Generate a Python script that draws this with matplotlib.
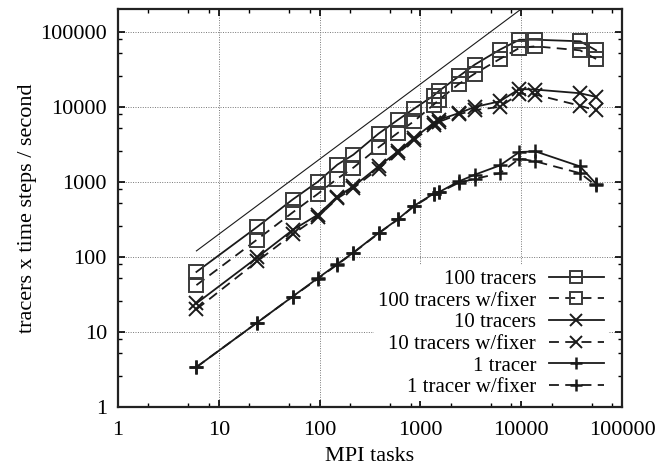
import numpy as np
import matplotlib.pyplot as plt
from matplotlib.ticker import FixedLocator, NullFormatter

# MPI task counts (6*ne^2)
tasks = [6, 24, 54, 96, 150, 216, 384, 600, 864, 1350, 1536, 2400, 3456, 6144, 9600, 13824, 38400, 55296]

t100 = [63, 250, 580, 1000, 1690, 2290, 4370, 6700, 9400, 14000, 16300, 25300, 36300, 57500, 78000, 78000, 74300, 56300]
t100_fix = [42, 170, 390, 690, 1100, 1540, 2870, 4500, 6400, 10600, 12400, 20000, 27500, 43200, 60600, 63700, 56300, 43200]
t10 = [24, 98, 228, 363, 635, 865, 1600, 2540, 3820, 6060, 6700, 8200, 9900, 11800, 17200, 16900, 15100, 13500]
t10_fix = [20, 87, 200, 340, 600, 820, 1500, 2400, 3600, 5700, 6300, 7900, 9000, 9950, 14900, 14500, 10300, 8900]
t1 = [3.4, 13.3, 29.6, 52, 80, 114, 207, 318, 478, 692, 730, 1010, 1240, 1650, 2490, 2540, 1600, 940]
t1_fix = [3.4, 13.3, 29.5, 51, 79, 113, 205, 315, 472, 680, 720, 970, 1090, 1300, 2030, 1870, 1300, 893]

# ideal scaling line
ideal_x = [6, 55296]
ideal_y = [20 * v for v in ideal_x]

labels = ['100 tracers', '100 tracers w/fixer', '10 tracers', '10 tracers w/fixer', '1 tracer', '1 tracer w/fixer']

plt.rcParams['font.family'] = ['Liberation Serif', 'DejaVu Serif']
plt.rcParams['font.size'] = 16

fig = plt.figure(figsize=(6.6, 4.7), dpi=100)
ax = fig.add_axes([118 / 660, 1 - 407 / 470, 504 / 660, 398 / 470])

lc = '#1a1a1a'
dash = (0, (5.5, 3.5))
common = dict(color=lc, lw=1.3, markerfacecolor='none')
ax.plot(tasks, t100, ls='-', marker='s', ms=10.5, mew=1.4, mec='#3a3a3a', label=labels[0], **common)
ax.plot(tasks, t100_fix, ls=dash, marker='s', ms=10.5, mew=1.4, mec='#3a3a3a', label=labels[1], **common)
ax.plot(tasks, t10, ls='-', marker='x', ms=10, mew=1.4, mec=lc, label=labels[2], **common)
ax.plot(tasks, t10_fix, ls=dash, marker='x', ms=10, mew=1.4, mec=lc, label=labels[3], **common)
ax.plot(tasks, t1, ls='-', marker='+', ms=10, mew=1.8, mec=lc, label=labels[4], **common)
ax.plot(tasks, t1_fix, ls=dash, marker='+', ms=10, mew=1.8, mec=lc, label=labels[5], **common)
ax.plot(ideal_x, ideal_y, color=lc, lw=0.8)

ax.set_xscale('log')
ax.set_yscale('log')
ax.set_xlim(1, 100000)
ax.set_ylim(1, 2e5)

xmaj = [1, 10, 100, 1000, 10000, 100000]
ymaj = [1, 10, 100, 1000, 10000, 100000]
ax.xaxis.set_major_locator(FixedLocator(xmaj))
ax.yaxis.set_major_locator(FixedLocator(ymaj))
ax.set_xticklabels([str(v) for v in xmaj])
ax.set_yticklabels([str(v) for v in ymaj])
ax.xaxis.set_minor_locator(FixedLocator([d * m for d in xmaj[:-1] for m in (2, 5, 8)]))
ax.yaxis.set_minor_locator(FixedLocator([d * m for d in ymaj for m in (2.6, 5.2, 8)]))
ax.xaxis.set_minor_formatter(NullFormatter())
ax.yaxis.set_minor_formatter(NullFormatter())

ax.tick_params(which='both', direction='in', top=True, right=True, labelsize=16)
ax.tick_params(which='major', length=5, width=1.2, pad=8)
ax.tick_params(axis='x', which='major', pad=10)
ax.tick_params(which='minor', length=3, width=1.0)
for s in ax.spines.values():
    s.set_linewidth(1.6)
    s.set_color('#222222')

ax.grid(True, which='major', ls=(0, (1, 1.5)), lw=0.7, color='#777777')

ax.set_xlabel('MPI tasks', fontsize=16, labelpad=5)
ax.set_ylabel('tracers x time steps / second', fontsize=16, labelpad=2)

leg = ax.legend(loc='lower right', bbox_to_anchor=((608 - 118) / 504, 0.014), borderaxespad=0,
                markerfirst=False, frameon=True, fancybox=False, edgecolor='none', facecolor='white',
                framealpha=1, handlelength=2.65, handletextpad=0.6, labelspacing=0.1, borderpad=0.2,
                fontsize=15)
for h in leg.legend_handles:
    h.set_markersize(8)

fig.savefig('out.png', dpi=100)
